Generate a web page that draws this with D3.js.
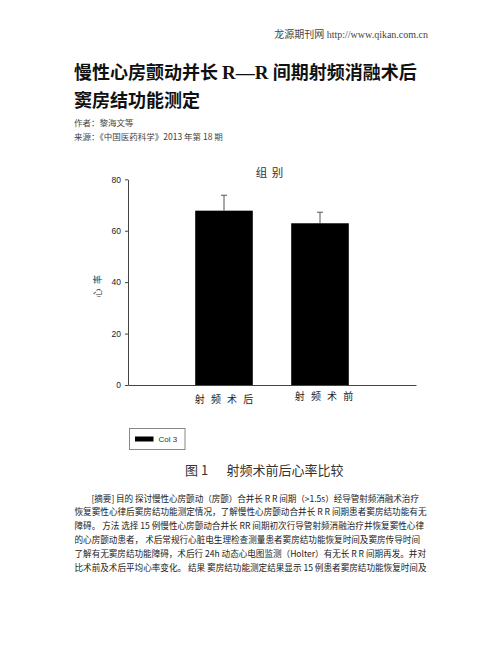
<!DOCTYPE html>
<html>
<head>
<meta charset="utf-8">
<script src="https://cdn.jsdelivr.net/npm/d3@7"></script>
<style>
  body { margin: 0; background: #fff; }
  svg { display: block; }
  .cjk { font-family: "Noto Sans CJK SC", "Noto Sans", sans-serif; }
  .axis text { font-family: "Liberation Sans", Arial, sans-serif; font-size: 8.5px; fill: #222; }
  .axis path, .axis line { stroke: #444; }
</style>
</head>
<body>
<div id="page"></div>
<script>
// chart data
const groups = ["射 频 术 后", "射 频 术 前"];
const heartRate = [67.8, 62.9];
const heartRateSd = [6.0, 4.3];
const yTicks = [0, 20, 40, 60, 80];
const legendLabel = "Col 3";

// page text
const abstractLines = [
  "[摘要] 目的 探讨慢性心房颤动（房颤）合并长 R R 间期（>1.5s）经导管射频消融术治疗",
  "恢复窦性心律后窦房结功能测定情况，了解慢性心房颤动合并长 R R 间期患者窦房结功能有无",
  "障碍。 方法 选择 15 例慢性心房颤动合并长 RR 间期初次行导管射频消融治疗并恢复窦性心律",
  "的心房颤动患者， 术后常规行心脏电生理检查测量患者窦房结功能恢复时间及窦房传导时间",
  "了解有无窦房结功能障碍，术后行 24h 动态心电图监测（Holter）有无长 R R 间期再发。并对",
  "比术前及术后平均心率变化。 结果 窦房结功能测定结果显示 15 例患者窦房结功能恢复时间及"
];

const W = 502, H = 649;
const svg = d3.select("#page").append("svg")
  .attr("width", W).attr("height", H);
svg.append("rect").attr("width", W).attr("height", H).attr("fill", "#fff");

// header
svg.append("text")
  .attr("x", 428).attr("y", 38)
  .attr("text-anchor", "end")
  .attr("font-size", 10).attr("fill", "#444")
  .attr("font-family", "'Liberation Serif', 'Noto Sans CJK SC', serif")
  .text("龙源期刊网 http://www.qikan.com.cn");

const title = svg.append("g").attr("class", "cjk")
  .attr("font-size", 18).attr("font-weight", "bold").attr("fill", "#111");
const t1 = title.append("text").attr("x", 74).attr("y", 79);
t1.append("tspan").text("慢性心房颤动并长 ");
t1.append("tspan").attr("font-family", "'Liberation Serif', serif").attr("font-size", 19).text("R—R");
t1.append("tspan").text(" 间期射频消融术后");
title.append("text").attr("x", 74).attr("y", 107).text("窦房结功能测定");

const meta = svg.append("g").attr("class", "cjk").attr("font-size", 8.5).attr("fill", "#444");
meta.append("text").attr("x", 74).attr("y", 126).text("作者：黎海文等");
meta.append("text").attr("x", 74).attr("y", 140).text("来源：《中国医药科学》2013 年第 18 期");

// chart
const plot = { left: 128, right: 416, top: 179.3, bottom: 385 };

const x = d3.scaleBand()
  .domain(groups)
  .range([plot.left, plot.right])
  .paddingInner(0.4)
  .paddingOuter(0.7);

const y = d3.scaleLinear()
  .domain([0, 80])
  .range([plot.bottom, plot.top]);

const chart = svg.append("g");

// y axis
chart.append("g")
  .attr("class", "axis")
  .attr("transform", `translate(${plot.left},0)`)
  .call(d3.axisLeft(y).tickValues(yTicks).tickSize(3).tickPadding(4).tickSizeOuter(0))
  .call(g => g.select(".domain").attr("stroke", "#444"));

// x axis
const xAxis = chart.append("g")
  .attr("class", "axis")
  .attr("transform", `translate(0,${plot.bottom})`)
  .call(d3.axisBottom(x).tickSize(0).tickPadding(9).tickSizeOuter(0));
xAxis.selectAll("text")
  .style("font-family", "'Noto Sans CJK SC', sans-serif")
  .style("font-size", "10px")
  .style("letter-spacing", "2px")
  .attr("fill", "#333")
  .attr("dx", (d, i) => i === 1 ? 5 : 1)
  .attr("dy", (d, i) => i === 1 ? "0.55em" : "0.85em");
xAxis.select(".domain").attr("stroke", "#555");

// bars
chart.selectAll("rect.bar")
  .data(groups)
  .join("rect")
  .attr("class", "bar")
  .attr("x", d => x(d))
  .attr("width", x.bandwidth())
  .attr("y", (d, i) => y(heartRate[i]))
  .attr("height", (d, i) => y(0) - y(heartRate[i]))
  .attr("fill", "#000");

// error bars
const err = chart.selectAll("g.err")
  .data(groups)
  .join("g")
  .attr("class", "err")
  .attr("stroke", "#555")
  .attr("stroke-width", 1);
err.append("line")
  .attr("x1", d => x(d) + x.bandwidth() / 2)
  .attr("x2", d => x(d) + x.bandwidth() / 2)
  .attr("y1", (d, i) => y(heartRate[i]))
  .attr("y2", (d, i) => y(heartRate[i] + heartRateSd[i]));
err.append("line")
  .attr("x1", d => x(d) + x.bandwidth() / 2 - 3)
  .attr("x2", d => x(d) + x.bandwidth() / 2 + 3)
  .attr("y1", (d, i) => y(heartRate[i] + heartRateSd[i]))
  .attr("y2", (d, i) => y(heartRate[i] + heartRateSd[i]));

// chart titles
svg.append("text").attr("class", "cjk")
  .attr("x", 270).attr("y", 177)
  .attr("text-anchor", "middle")
  .attr("font-size", 11.5).attr("fill", "#333")
  .style("letter-spacing", "1px")
  .text("组 别");

svg.append("text").attr("class", "cjk")
  .attr("transform", "translate(101,284) rotate(-90)")
  .attr("text-anchor", "middle")
  .attr("font-size", 9).attr("fill", "#333")
  .style("letter-spacing", "4.5px")
  .text("心率");

// legend
const legend = svg.append("g").attr("transform", "translate(129.5,428.5)");
legend.append("rect")
  .attr("width", 55.5).attr("height", 21)
  .attr("fill", "#fff").attr("stroke", "#888");
legend.append("rect")
  .attr("x", 5.5).attr("y", 8).attr("width", 18.5).attr("height", 5)
  .attr("fill", "#000");
legend.append("text")
  .attr("x", 29).attr("y", 13.5)
  .attr("font-family", "'Liberation Sans', Arial, sans-serif")
  .attr("font-size", 8).attr("fill", "#333")
  .text(legendLabel);

// caption
const caption = svg.append("g").attr("class", "cjk").attr("font-size", 13).attr("fill", "#333");
caption.append("text").attr("x", 185).attr("y", 475).text("图 1");
caption.append("text").attr("x", 226.5).attr("y", 475).text("射频术前后心率比较");

// abstract
const lineEnds = [419, 426.5, 424, 420, 426, 426.5];
svg.append("g").attr("class", "cjk")
  .attr("font-size", 8.6).attr("fill", "#222")
  .selectAll("text")
  .data(abstractLines)
  .join("text")
  .attr("x", (d, i) => i === 0 ? 91.5 : 74.5)
  .attr("y", (d, i) => 501.5 + i * 13.9)
  .attr("textLength", (d, i) => lineEnds[i] - (i === 0 ? 91.5 : 74.5))
  .attr("lengthAdjust", "spacing")
  .text(d => d);
</script>
</body>
</html>
